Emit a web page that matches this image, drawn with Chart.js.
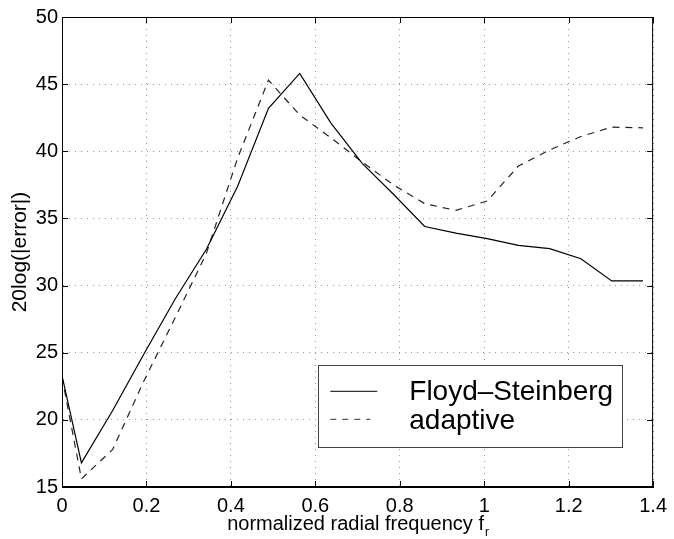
<!DOCTYPE html>
<html>
<head>
<meta charset="utf-8">
<script src="https://cdn.jsdelivr.net/npm/chart.js@4.4.0/dist/chart.umd.min.js"></script>
<style>
  html, body { margin: 0; padding: 0; background: #fff; }
  #wrap { width: 674px; height: 539px; }
</style>
</head>
<body>
<div id="wrap"><canvas id="chart1" width="674" height="539"></canvas></div>
<script>
// values
const freq = [0, 0.046, 0.120, 0.194, 0.268, 0.342, 0.416, 0.489, 0.563, 0.637,
              0.711, 0.785, 0.859, 0.933, 1.007, 1.081, 1.155, 1.229, 1.302, 1.376];
const floyd = [23.3, 16.8, 20.7, 24.9, 29.0, 32.7, 37.4, 43.2, 45.8, 42.1,
               39.1, 36.8, 34.4, 33.9, 33.5, 33.0, 32.75, 32.0, 30.35, 30.35];
const adaptive = [23.2, 15.6, 17.8, 22.9, 27.6, 32.4, 39.5, 45.3, 42.7, 41.0,
                  39.2, 37.5, 36.1, 35.6, 36.3, 38.9, 40.1, 41.1, 41.8, 41.75];
const seriesNames = ['Floyd\u2013Steinberg', 'adaptive'];
const xTicks = [0, 0.2, 0.4, 0.6, 0.8, 1, 1.2, 1.4];
const yTicks = [15, 20, 25, 30, 35, 40, 45, 50];
const xTitle = 'normalized radial frequency f';
const xTitleSub = 'r';
const yTitle = '20log(|error|)';

const FONT = '"Liberation Sans", Arial, Helvetica, sans-serif';

function pts(ys) {
    return freq.map(function(x, i) { return { x: x, y: ys[i] }; });
}

// box, inward ticks, x title and legend like the matlab figure
const matlabBits = {
    id: 'matlabBits',
    afterDraw: function(chart) {
        const ctx = chart.ctx;
        const a = chart.chartArea;
        const xs = chart.scales.x, ys = chart.scales.y;
        ctx.save();
        ctx.strokeStyle = '#000';
        ctx.lineWidth = 1;
        ctx.setLineDash([]);
        ctx.strokeRect(a.left + 0.5, a.top + 0.5, a.right - a.left - 1, a.bottom - a.top - 1);
        ctx.beginPath();
        xTicks.forEach(function(t) {
            const px = Math.round(xs.getPixelForValue(t)) + 0.5;
            ctx.moveTo(px, a.bottom); ctx.lineTo(px, a.bottom - 6);
            ctx.moveTo(px, a.top); ctx.lineTo(px, a.top + 6);
        });
        yTicks.forEach(function(t) {
            const py = Math.round(ys.getPixelForValue(t)) + 0.5;
            ctx.moveTo(a.left, py); ctx.lineTo(a.left + 6, py);
            ctx.moveTo(a.right, py); ctx.lineTo(a.right - 6, py);
        });
        ctx.stroke();

        // x axis title with subscript
        ctx.fillStyle = '#000';
        ctx.font = '20px ' + FONT;
        ctx.textBaseline = 'alphabetic';
        const w1 = ctx.measureText(xTitle).width;
        ctx.font = '12px ' + FONT;
        const w2 = ctx.measureText(xTitleSub).width;
        const cx = (a.left + a.right) / 2;
        let tx = cx - (w1 + w2) / 2;
        ctx.font = '20px ' + FONT;
        ctx.textAlign = 'left';
        ctx.fillText(xTitle, tx, 530);
        ctx.font = '12px ' + FONT;
        ctx.fillText(xTitleSub, tx + w1 + 1, 536);

        // legend box
        const lx = xs.getPixelForValue(0.607), rx = xs.getPixelForValue(1.326);
        const ty = ys.getPixelForValue(24.1), by = ys.getPixelForValue(18.0);
        ctx.fillStyle = '#fff';
        ctx.fillRect(lx, ty, rx - lx, by - ty);
        ctx.strokeStyle = '#444';
        ctx.strokeRect(Math.round(lx) + 0.5, Math.round(ty) + 0.5, Math.round(rx - lx), Math.round(by - ty));
        ctx.strokeStyle = '#000';
        ctx.beginPath();
        ctx.moveTo(lx + 12, ty + 26.5); ctx.lineTo(lx + 59, ty + 26.5);
        ctx.stroke();
        ctx.setLineDash([6, 6]);
        ctx.strokeStyle = '#333';
        ctx.beginPath();
        ctx.moveTo(lx + 12, ty + 54.5); ctx.lineTo(lx + 52, ty + 54.5);
        ctx.stroke();
        ctx.setLineDash([]);
        ctx.fillStyle = '#000';
        ctx.font = '28px ' + FONT;
        ctx.fillText(seriesNames[0], lx + 91, ty + 35);
        ctx.fillText(seriesNames[1], lx + 91, ty + 64);
        ctx.restore();
    }
};

document.addEventListener('DOMContentLoaded', function() {
    const ctx1 = document.getElementById('chart1').getContext('2d');
    new Chart(ctx1, {
        type: 'scatter',
        data: {
            datasets: [{
                label: seriesNames[0],
                data: pts(floyd),
                showLine: true,
                borderColor: '#000',
                borderWidth: 1.2,
                pointRadius: 0,
                tension: 0
            }, {
                label: seriesNames[1],
                data: pts(adaptive),
                showLine: true,
                borderColor: '#222',
                borderWidth: 1.2,
                borderDash: [7, 6],
                pointRadius: 0,
                tension: 0
            }]
        },
        options: {
            responsive: false,
            animation: false,
            layout: { padding: { top: 17, right: 16, left: 0, bottom: 0 } },
            plugins: {
                legend: { display: false },
                tooltip: { enabled: false }
            },
            scales: {
                x: {
                    type: 'linear',
                    min: 0,
                    max: 1.4,
                    afterBuildTicks: function(scale) {
                        scale.ticks = xTicks.map(function(v) { return { value: v }; });
                    },
                    afterFit: function(scale) { scale.height = 52; },
                    ticks: {
                        color: '#000',
                        font: { family: FONT, size: 20 },
                        padding: 7,
                        maxRotation: 0,
                        callback: function(v) { return String(Math.round(v * 10) / 10); }
                    },
                    grid: { color: '#999', lineWidth: 1, drawTicks: false },
                    border: { display: true, color: '#000', dash: [1, 5] }
                },
                y: {
                    min: 15,
                    max: 50,
                    afterBuildTicks: function(scale) {
                        scale.ticks = yTicks.map(function(v) { return { value: v }; });
                    },
                    afterFit: function(scale) { scale.width = 62; },
                    ticks: {
                        color: '#000',
                        font: { family: FONT, size: 20 },
                        padding: 4
                    },
                    grid: { color: '#999', lineWidth: 1, drawTicks: false },
                    border: { display: true, color: '#000', dash: [1, 5] },
                    title: {
                        display: true,
                        text: yTitle,
                        color: '#000',
                        font: { family: FONT, size: 21 },
                        padding: { top: 8, bottom: 0 }
                    }
                }
            }
        },
        plugins: [matlabBits]
    });
});
</script>
</body>
</html>
